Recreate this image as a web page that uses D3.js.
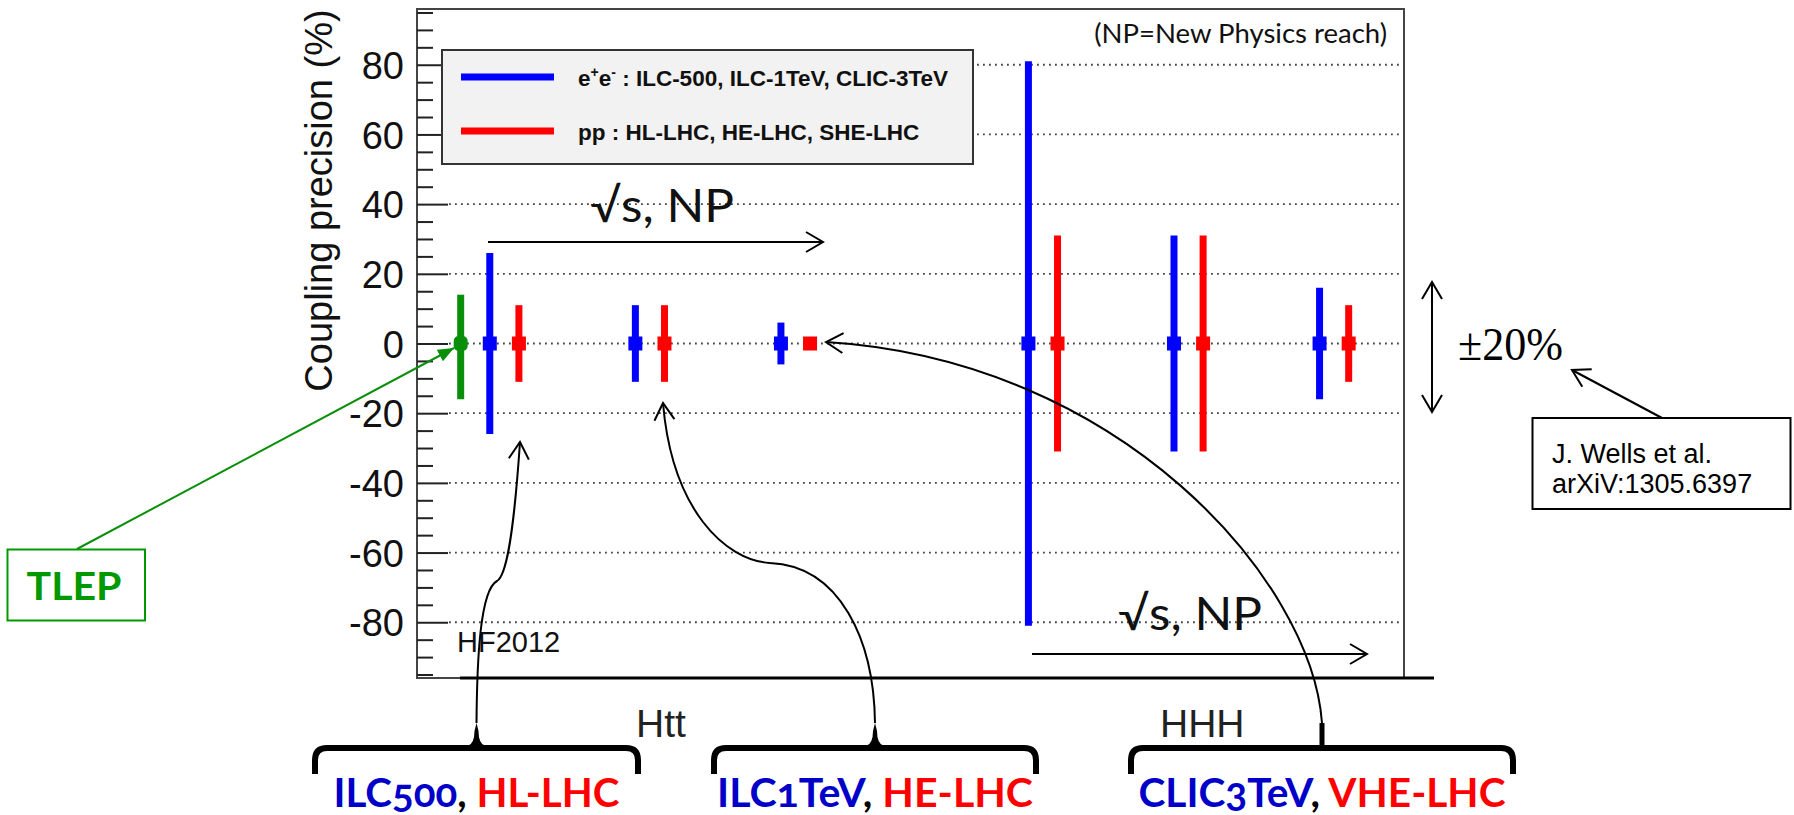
<!DOCTYPE html>
<html>
<head>
<meta charset="utf-8">
<script src="https://cdn.jsdelivr.net/npm/d3@7"></script>
<style>
  html, body { margin: 0; padding: 0; background: #fff; }
  svg { display: block; }
</style>
</head>
<body>
<svg id="chart" width="1794" height="815"></svg>
<script>
// ---- data -------------------------------------------------------------
// slot = position along the process axis (Htt block, then HHH block)
const processNames = ["Htt", "HHH"];
const eeNames  = ["ILC-500", "ILC-1TeV", "CLIC-3TeV", "ILC-500", "ILC-1TeV", "CLIC-3TeV"];
const eeSlot   = [0.5, 1.5, 2.5, 4.2, 5.2, 6.2];
const eeError  = [26, 11, 6, 81, 31, 16];          // ± coupling precision (%)
const ppNames  = ["HL-LHC", "HE-LHC", "SHE-LHC", "HL-LHC", "HE-LHC", "SHE-LHC"];
const ppSlot   = [0.7, 1.7, 2.7, 4.4, 5.4, 6.4];
const ppError  = [11, 11, 1, 31, 31, 11];
const tlepSlot  = [0.3];
const tlepUpper = [14];
const tlepLower = [-16];
const yMajorTicks = [-80, -60, -40, -20, 0, 20, 40, 60, 80];
const legendEntries = ["ee", "pp"];
const bracketTexts = [
  [["ILC500", "#0000c8"], [", ", "#000"], ["HL-LHC", "#ff0000"]],
  [["ILC1TeV", "#0000c8"], [", ", "#000"], ["HE-LHC", "#ff0000"]],
  [["CLIC3TeV", "#0000c8"], [", ", "#000"], ["VHE-LHC", "#ff0000"]]
];

// ---- layout -----------------------------------------------------------
const svg = d3.select("#chart");
const frame = { left: 417, right: 1404, top: 9, bottom: 678 };
const x = d3.scaleLinear().domain([0, 6.78]).range([frame.left, frame.right]);
const y = d3.scaleLinear().domain([-96, 96]).range([frame.bottom, frame.top]);

const BLUE = "#0000ff", RED = "#ff0000", GREEN = "#0a8f0a", TGREEN = "#009900";
const ROOTFONT = "'Liberation Sans', Arial, Helvetica, sans-serif";
const SLIDEFONT = "Lato, 'Open Sans', sans-serif";

const defs = svg.append("defs");
function chevron(id, color) {
  defs.append("marker").attr("id", id)
    .attr("viewBox", "-20 -12 22 24").attr("refX", 0).attr("refY", 0)
    .attr("markerWidth", 22).attr("markerHeight", 24)
    .attr("markerUnits", "userSpaceOnUse").attr("orient", "auto-start-reverse")
    .append("path").attr("d", "M-17,-10 L0,0 L-17,10")
    .attr("fill", "none").attr("stroke", color).attr("stroke-width", 2);
}
chevron("chev", "#000");
defs.append("marker").attr("id", "greenHead")
  .attr("viewBox", "-18 -8 20 16").attr("refX", 0).attr("refY", 0)
  .attr("markerWidth", 20).attr("markerHeight", 16)
  .attr("markerUnits", "userSpaceOnUse").attr("orient", "auto")
  .append("path").attr("d", "M-16,-6.5 L0,0 L-16,6.5 Z").attr("fill", GREEN);

// ---- grid -------------------------------------------------------------
svg.append("g").selectAll("line").data(yMajorTicks).join("line")
  .attr("x1", frame.left + 32).attr("x2", frame.right - 2)
  .attr("y1", d => y(d)).attr("y2", d => y(d))
  .attr("stroke", "#444").attr("stroke-width", 1.8)
  .attr("stroke-dasharray", "1.8 4.2");

// ---- frame ------------------------------------------------------------
svg.append("rect")
  .attr("x", frame.left).attr("y", frame.top)
  .attr("width", frame.right - frame.left).attr("height", frame.bottom - frame.top)
  .attr("fill", "none").attr("stroke", "#444").attr("stroke-width", 2);
svg.append("line")
  .attr("x1", 460).attr("x2", 1434).attr("y1", frame.bottom).attr("y2", frame.bottom)
  .attr("stroke", "#000").attr("stroke-width", 3);

// ---- y axis -----------------------------------------------------------
const minorTicks = d3.range(-95, 96, 5).filter(v => v % 20 !== 0);
svg.append("g").attr("transform", `translate(${frame.left},0)`)
  .call(d3.axisLeft(y).tickValues(minorTicks).tickSize(-16).tickFormat(""))
  .call(g => g.select(".domain").remove())
  .call(g => g.selectAll("line").attr("stroke", "#222").attr("stroke-width", 2));
svg.append("g").attr("transform", `translate(${frame.left},0)`)
  .call(d3.axisLeft(y).tickValues(yMajorTicks).tickSize(-31).tickPadding(13)
        .tickFormat(d => String(d)))
  .call(g => g.select(".domain").remove())
  .call(g => g.selectAll("line").attr("stroke", "#222").attr("stroke-width", 2))
  .call(g => g.selectAll("text").attr("font-family", ROOTFONT)
        .attr("font-size", 38).attr("fill", "#111").attr("dy", "0.36em"));

svg.append("text")
  .attr("transform", `translate(332,${(frame.top + 392) / 2}) rotate(-90)`)
  .attr("text-anchor", "middle").attr("font-family", ROOTFONT)
  .attr("font-size", 38).attr("fill", "#111")
  .text("Coupling precision (%)");

// ---- legend -----------------------------------------------------------
const lg = svg.append("g");
lg.append("rect").attr("x", 442).attr("y", 50).attr("width", 531).attr("height", 114)
  .attr("fill", "#f2f2f2").attr("stroke", "#333").attr("stroke-width", 2);
legendEntries.forEach((k, i) => {
  const ly = i === 0 ? 77 : 131;
  lg.append("line").attr("x1", 461).attr("x2", 554).attr("y1", ly).attr("y2", ly)
    .attr("stroke", k === "ee" ? BLUE : RED).attr("stroke-width", 7);
  const t = lg.append("text").attr("x", 578).attr("y", ly + 9)
    .attr("font-family", ROOTFONT).attr("font-weight", "bold")
    .attr("font-size", 22.5).attr("fill", "#111");
  if (k === "ee") {
    t.append("tspan").text("e");
    t.append("tspan").attr("font-size", 14).attr("dy", -9).text("+");
    t.append("tspan").attr("dy", 9).text("e");
    t.append("tspan").attr("font-size", 14).attr("dy", -9).text("-");
    t.append("tspan").attr("dy", 9).text(" : " + eeNames.slice(0, 3).join(", "));
  } else {
    t.text("pp : " + ppNames.slice(0, 3).join(", "));
  }
});

svg.append("text").attr("x", 1387).attr("y", 43).attr("text-anchor", "end")
  .attr("font-family", SLIDEFONT).attr("font-size", 27.5).attr("fill", "#111")
  .text("(NP=New Physics reach)");

// ---- error bars -------------------------------------------------------
function errorBars(slots, lows, highs, color) {
  const g = svg.append("g");
  g.selectAll("line").data(slots).join("line")
    .attr("x1", d => x(d)).attr("x2", d => x(d))
    .attr("y1", (d, i) => y(lows[i])).attr("y2", (d, i) => y(highs[i]))
    .attr("stroke", color).attr("stroke-width", 7);
  g.selectAll("rect").data(slots).join("rect")
    .attr("x", d => x(d) - 7).attr("y", y(0) - 7)
    .attr("width", 14).attr("height", 14).attr("fill", color);
  return g;
}
errorBars(eeSlot, eeError.map(e => -e), eeError, BLUE);
errorBars(ppSlot, ppError.map(e => -e), ppError, RED);
errorBars(tlepSlot, tlepLower, tlepUpper, GREEN)
  .selectAll("rect").attr("rx", 5).attr("height", 15).attr("y", y(0) - 7.5);

// ---- annotations inside the frame -------------------------------------
const NPFONT = 46;
svg.append("text").attr("x", 590).attr("y", 222)
  .attr("font-family", SLIDEFONT).attr("font-size", NPFONT).attr("fill", "#111")
  .attr("textLength", 144).attr("lengthAdjust", "spacingAndGlyphs")
  .text("\u221As, NP");
svg.append("line").attr("x1", 488).attr("x2", 823).attr("y1", 242).attr("y2", 242)
  .attr("stroke", "#000").attr("stroke-width", 2).attr("marker-end", "url(#chev)");

svg.append("text").attr("x", 1118).attr("y", 630)
  .attr("font-family", SLIDEFONT).attr("font-size", NPFONT).attr("fill", "#111")
  .attr("textLength", 144).attr("lengthAdjust", "spacingAndGlyphs")
  .text("\u221As, NP");
svg.append("line").attr("x1", 1032).attr("x2", 1367).attr("y1", 654).attr("y2", 654)
  .attr("stroke", "#000").attr("stroke-width", 2).attr("marker-end", "url(#chev)");

svg.append("text").attr("x", 457).attr("y", 652)
  .attr("font-family", ROOTFONT).attr("font-size", 29).attr("fill", "#111")
  .text("HF2012");

// ---- process labels and brackets --------------------------------------
svg.append("text").attr("x", 636).attr("y", 737)
  .attr("font-family", ROOTFONT).attr("font-size", 39).attr("fill", "#222")
  .text(processNames[0]);
svg.append("text").attr("x", 1160).attr("y", 737)
  .attr("font-family", ROOTFONT).attr("font-size", 39).attr("fill", "#222")
  .text(processNames[1]);

const brackets = [
  { x0: 315, x1: 638, xc: 476.5, w: 286, stem: false },
  { x0: 714, x1: 1036, xc: 875, w: 316, stem: false },
  { x0: 1131, x1: 1513, xc: 1322, w: 367, stem: true }
];
const bTop = 748, bEnd = 774, bPeak = 723;
brackets.forEach((b, i) => {
  const p = d3.path();
  p.moveTo(b.x0, bEnd);
  p.lineTo(b.x0, bTop + 12);
  p.quadraticCurveTo(b.x0, bTop, b.x0 + 12, bTop);
  p.lineTo(b.x1 - 12, bTop);
  p.quadraticCurveTo(b.x1, bTop, b.x1, bTop + 12);
  p.lineTo(b.x1, bEnd);
  svg.append("path").attr("d", p.toString()).attr("fill", "none")
    .attr("stroke", "#000").attr("stroke-width", 6);
  if (b.stem) {
    svg.append("line").attr("x1", b.xc).attr("x2", b.xc).attr("y1", bPeak).attr("y2", bTop)
      .attr("stroke", "#000").attr("stroke-width", 5);
  } else {
    const n = d3.path();
    n.moveTo(b.xc - 9, bTop - 2);
    n.quadraticCurveTo(b.xc - 2, bTop - 4, b.xc - 2, bPeak + 8);
    n.lineTo(b.xc, bPeak);
    n.lineTo(b.xc + 2, bPeak + 8);
    n.quadraticCurveTo(b.xc + 2, bTop - 4, b.xc + 9, bTop - 2);
    n.closePath();
    svg.append("path").attr("d", n.toString()).attr("fill", "#000");
  }
  const t = svg.append("text").attr("x", b.xc).attr("y", 807)
    .attr("text-anchor", "middle").attr("font-family", SLIDEFONT)
    .attr("font-weight", "bold").attr("font-size", 40)
    .style("font-variant-numeric", "oldstyle-nums")
    .attr("textLength", b.w).attr("lengthAdjust", "spacingAndGlyphs");
  bracketTexts[i].forEach(([s, c]) => t.append("tspan").attr("fill", c).text(s));
});

// curved pointers from brackets to the bars
const curves = [
  "M476.5,723 C477,660 480,590 497,581 C507,575 514,530 520,442",
  "M875,723 C874,640 840,566 770,563 C725,560 672,510 663,403",
  "M1322,723 C1312,580 1120,360 826,342"
];
svg.append("g").selectAll("path").data(curves).join("path")
  .attr("d", d => d).attr("fill", "none").attr("stroke", "#000")
  .attr("stroke-width", 2).attr("marker-end", "url(#chev)");

// ---- TLEP callout -----------------------------------------------------
svg.append("line").attr("x1", 77).attr("y1", 549).attr("x2", 454).attr("y2", 348)
  .attr("stroke", GREEN).attr("stroke-width", 2).attr("marker-end", "url(#greenHead)");
svg.append("rect").attr("x", 7.5).attr("y", 549.5).attr("width", 137.5).attr("height", 71)
  .attr("fill", "#fff").attr("stroke", TGREEN).attr("stroke-width", 2);
svg.append("text").attr("x", 74).attr("y", 600).attr("text-anchor", "middle")
  .attr("font-family", SLIDEFONT).attr("font-weight", "bold").attr("font-size", 38)
  .attr("fill", TGREEN).attr("textLength", 95).attr("lengthAdjust", "spacingAndGlyphs")
  .text("TLEP");

// ---- ±20% marker and reference box -----------------------------------
svg.append("line").attr("x1", 1432).attr("x2", 1432).attr("y1", 282).attr("y2", 412)
  .attr("stroke", "#000").attr("stroke-width", 2)
  .attr("marker-start", "url(#chev)").attr("marker-end", "url(#chev)");
svg.append("text").attr("x", 1458).attr("y", 360)
  .attr("font-family", "'Liberation Serif', 'Times New Roman', serif")
  .attr("font-size", 46).attr("fill", "#000")
  .attr("textLength", 105).attr("lengthAdjust", "spacingAndGlyphs")
  .text("\u00B120%");
svg.append("line").attr("x1", 1662).attr("y1", 418).attr("x2", 1572).attr("y2", 370)
  .attr("stroke", "#000").attr("stroke-width", 2).attr("marker-end", "url(#chev)");
svg.append("rect").attr("x", 1532.5).attr("y", 418).attr("width", 258).attr("height", 91)
  .attr("fill", "#fff").attr("stroke", "#000").attr("stroke-width", 2);
svg.append("text").attr("x", 1552).attr("y", 463)
  .attr("font-family", ROOTFONT).attr("font-size", 27).attr("fill", "#000")
  .text("J. Wells et al.");
svg.append("text").attr("x", 1552).attr("y", 493)
  .attr("font-family", ROOTFONT).attr("font-size", 27).attr("fill", "#000")
  .text("arXiV:1305.6397");
</script>
</body>
</html>
